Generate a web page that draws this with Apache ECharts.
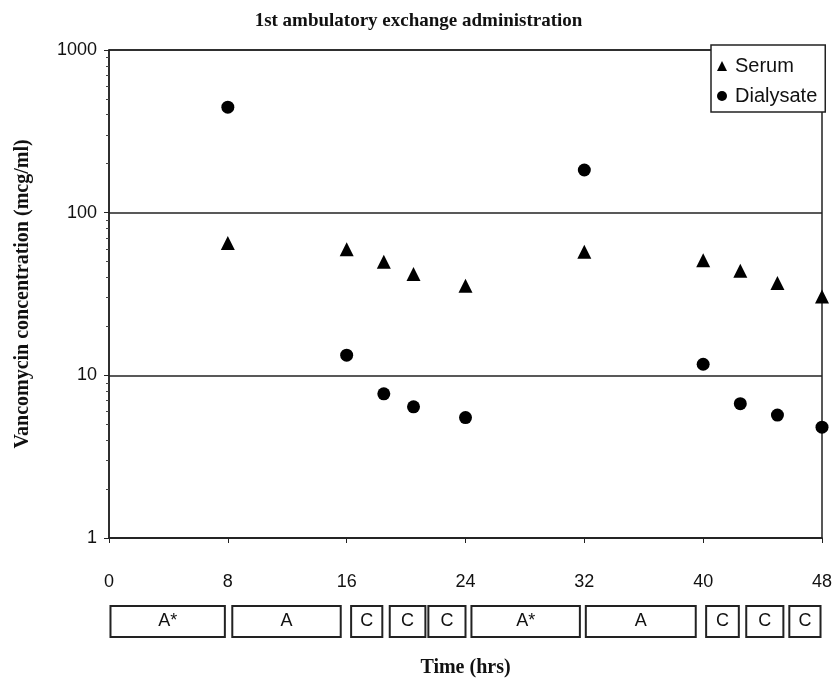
<!DOCTYPE html>
<html>
<head>
<meta charset="utf-8">
<script src="https://cdn.jsdelivr.net/npm/echarts@6/dist/echarts.min.js"></script>
<style>html,body{margin:0;padding:0;background:#fff}#c{width:837px;height:687px}</style>
</head>
<body>
<div id="c"></div>
<script>
// Data
const serumTimes = [8, 16, 18.5, 20.5, 24, 32, 40, 42.5, 45, 48];
const serumValues = [65, 59.5, 50, 42, 35.5, 57.5, 51, 44, 37, 30.5];
const dialysateTimes = [8, 16, 18.5, 20.5, 24, 32, 40, 42.5, 45, 48];
const dialysateValues = [445, 13.3, 7.7, 6.4, 5.5, 183, 11.7, 6.7, 5.7, 4.8];
const xTicks = [0, 8, 16, 24, 32, 40, 48];
const yTicks = [1, 10, 100, 1000];
const boxStarts = [0.1, 8.3, 16.3, 18.9, 21.5, 24.4, 32.1, 40.2, 42.9, 45.8];
const boxEnds = [7.8, 15.6, 18.4, 21.3, 24.0, 31.7, 39.5, 42.4, 45.4, 47.9];
const boxLabels = ['A*', 'A', 'C', 'C', 'C', 'A*', 'A', 'C', 'C', 'C'];

const chart = echarts.init(document.getElementById('c'), null, {renderer: 'canvas'});
const serif = '"Liberation Serif", "DejaVu Serif", serif';
const sans = '"Liberation Sans", Arial, sans-serif';

chart.setOption({
  animation: false,
  backgroundColor: '#fff',
  title: {
    text: '1st ambulatory exchange administration',
    left: 'center', top: 7,
    textStyle: {fontFamily: serif, fontWeight: 'bold', fontSize: 19, color: '#111'}
  },
  legend: {
    orient: 'vertical', left: 711, top: 45,
    data: [{name: 'Serum', icon: 'triangle'}, {name: 'Dialysate', icon: 'circle'}],
    itemWidth: 10, itemHeight: 10, itemGap: 10,
    padding: [11, 8, 6, 6],
    borderColor: '#222', borderWidth: 1.5, backgroundColor: '#fff',
    itemStyle: {opacity: 1},
    textStyle: {fontFamily: sans, fontSize: 20, color: '#111', padding: [0, 0, 0, 3]}
  },
  grid: [
    {left: 109, right: 15, top: 50, bottom: 149, show: true, borderColor: '#222', borderWidth: 1.5, containLabel: false},
    {left: 109, right: 15, top: 606, height: 31, containLabel: false}
  ],
  xAxis: [
    {
      type: 'value', gridIndex: 0, min: 0, max: 48, interval: 8,
      name: 'Time (hrs)', nameLocation: 'middle', nameGap: 120,
      nameTextStyle: {fontFamily: serif, fontWeight: 'bold', fontSize: 20, color: '#111'},
      axisLine: {show: true, lineStyle: {color: '#222', width: 1.5}},
      axisTick: {show: true, length: 5, lineStyle: {color: '#222'}},
      axisLabel: {margin: 35, fontFamily: sans, fontSize: 18, color: '#111',
        formatter: v => xTicks.includes(v) ? String(v) : ''},
      splitLine: {show: false}
    },
    {type: 'value', gridIndex: 1, min: 0, max: 48, show: false}
  ],
  yAxis: [
    {
      type: 'log', gridIndex: 0, min: 1, max: 1000, logBase: 10,
      name: 'Vancomycin concentration (mcg/ml)', nameLocation: 'middle', nameGap: 76, nameRotate: 90,
      nameTextStyle: {fontFamily: serif, fontWeight: 'bold', fontSize: 20, color: '#111'},
      axisLine: {show: true, lineStyle: {color: '#222', width: 1.5}},
      axisTick: {show: true, length: 5, lineStyle: {color: '#222'}},
      minorTick: {show: true, splitNumber: 9, length: 3, lineStyle: {color: '#444'}},
      axisLabel: {margin: 12, fontFamily: sans, fontSize: 18, color: '#111',
        formatter: v => yTicks.includes(Math.round(v)) ? String(Math.round(v)) : ''},
      splitLine: {show: true, lineStyle: {color: '#222', width: 1.5}}
    },
    {type: 'value', gridIndex: 1, min: 0, max: 1, show: false}
  ],
  series: [
    {
      name: 'Serum', type: 'scatter', xAxisIndex: 0, yAxisIndex: 0,
      symbol: 'triangle', symbolSize: 14,
      itemStyle: {color: '#000', opacity: 1},
      data: serumTimes.map((t, i) => [t, serumValues[i]])
    },
    {
      name: 'Dialysate', type: 'scatter', xAxisIndex: 0, yAxisIndex: 0,
      symbol: 'circle', symbolSize: 13,
      itemStyle: {color: '#000', opacity: 1},
      data: dialysateTimes.map((t, i) => [t, dialysateValues[i]])
    },
    {
      name: 'boxes', type: 'custom', xAxisIndex: 1, yAxisIndex: 1,
      silent: true,
      data: boxStarts.map((s, i) => [s, boxEnds[i]]),
      renderItem: function (params, api) {
        const a = api.coord([api.value(0), 1]);
        const b = api.coord([api.value(1), 0]);
        return {
          type: 'group',
          children: [
            {type: 'rect', shape: {x: a[0], y: a[1], width: b[0] - a[0], height: b[1] - a[1]},
              style: {fill: '#fff', stroke: '#222', lineWidth: 2}},
            {type: 'text', style: {text: boxLabels[params.dataIndex], x: (a[0] + b[0]) / 2, y: (a[1] + b[1]) / 2,
              align: 'center', verticalAlign: 'middle', font: '18px "Liberation Sans", Arial, sans-serif', fill: '#111'}}
          ]
        };
      }
    }
  ]
});
</script>
</body>
</html>
